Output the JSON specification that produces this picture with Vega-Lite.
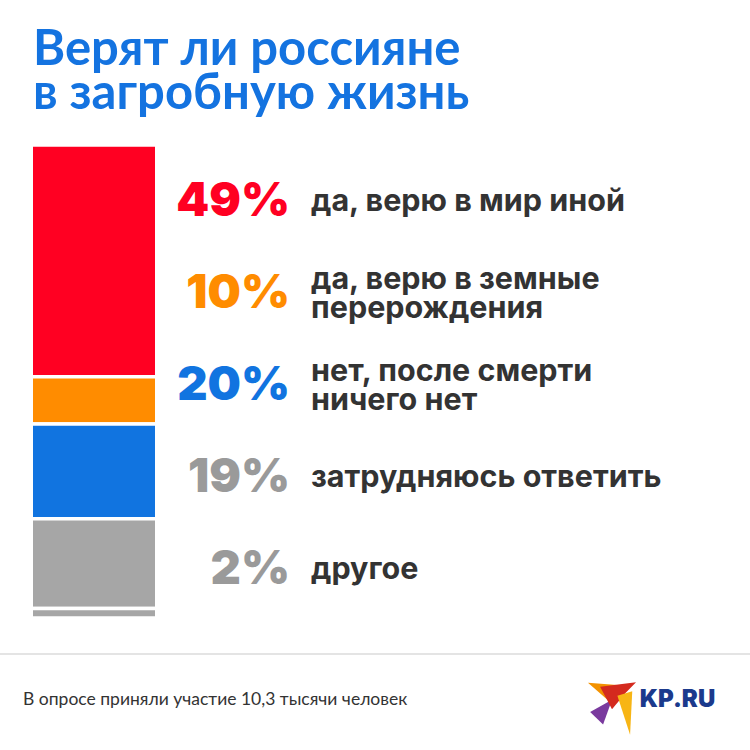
{
  "$schema": "https://vega.github.io/schema/vega-lite/v6.json",
  "width": 750,
  "height": 473,
  "autosize": {"type": "none"},
  "padding": {"left": 0, "top": 145, "right": 0, "bottom": 132},
  "background": "white",
  "config": {"view": {"stroke": null}},
  "title": {
    "text": ["Верят ли россияне", "в загробную жизнь"],
    "anchor": "start",
    "frame": "group",
    "font": "Lato",
    "fontSize": 49,
    "fontWeight": "bold",
    "color": "#1473e0",
    "lineHeight": 44,
    "baseline": "alphabetic",
    "offset": 35,
    "dy": 50,
    "dx": 33
  },
  "datasets": {
    "answers": [
      {"order": 1, "answer": "yes_other_world", "share": 0.49, "label": ["да, верю в мир иной"]},
      {"order": 2, "answer": "yes_rebirth", "share": 0.10, "label": ["да, верю в земные", "перерождения"]},
      {"order": 3, "answer": "no", "share": 0.20, "label": ["нет, после смерти", "ничего нет"]},
      {"order": 4, "answer": "hard_to_say", "share": 0.19, "label": ["затрудняюсь ответить"]},
      {"order": 5, "answer": "other", "share": 0.02, "label": ["другое"]}
    ]
  },
  "resolve": {"scale": {"y": "independent", "x": "shared", "color": "independent"}},
  "layer": [
    {
      "data": {"name": "answers"},
      "transform": [
        {"stack": "share", "groupby": [], "sort": [{"field": "order", "order": "ascending"}], "as": ["y0", "y1"]}
      ],
      "mark": {"type": "bar", "stroke": "white", "strokeWidth": 3.5},
      "encoding": {
        "x": {"datum": 4.167, "type": "quantitative", "scale": {"domain": [0, 100]}, "axis": null},
        "x2": {"datum": 20.9},
        "y": {"field": "y0", "type": "quantitative", "scale": {"domain": [0, 1], "reverse": true}, "axis": null},
        "y2": {"field": "y1"},
        "color": {
          "field": "answer", "type": "nominal", "legend": null,
          "scale": {
            "domain": ["yes_other_world", "yes_rebirth", "no", "hard_to_say", "other"],
            "range": ["#ff0022", "#ff8c00", "#1174e0", "#a6a6a6", "#a6a6a6"]
          }
        }
      }
    },
    {
      "data": {"name": "answers"},
      "mark": {"type": "text", "align": "right", "baseline": "middle", "font": "Inter", "fontSize": 47, "fontWeight": 900},
      "encoding": {
        "x": {"datum": 38.67, "type": "quantitative"},
        "y": {"field": "answer", "type": "nominal", "axis": null,
              "scale": {"type": "point", "domain": ["yes_other_world", "yes_rebirth", "no", "hard_to_say", "other"], "padding": 0.5707, "align": 0.545}},
        "text": {"field": "share", "type": "quantitative", "format": ".0%"},
        "color": {
          "field": "answer", "type": "nominal", "legend": null,
          "scale": {
            "domain": ["yes_other_world", "yes_rebirth", "no", "hard_to_say", "other"],
            "range": ["#ff0022", "#ff8c00", "#1174e0", "#9a9a9a", "#9a9a9a"]
          }
        }
      }
    },
    {
      "data": {"name": "answers"},
      "transform": [{"filter": "length(datum.label) == 1"}],
      "mark": {"type": "text", "align": "left", "baseline": "middle", "font": "Inter", "fontSize": 30.5, "fontWeight": 700, "letterSpacing": 1.6, "color": "#333333", "lineHeight": 30},
      "encoding": {
        "x": {"datum": 41.47, "type": "quantitative"},
        "y": {"field": "answer", "type": "nominal", "axis": null,
              "scale": {"type": "point", "domain": ["yes_other_world", "yes_rebirth", "no", "hard_to_say", "other"], "padding": 0.5707, "align": 0.545}},
        "text": {"field": "label"}
      }
    },
    {
      "data": {"name": "answers"},
      "transform": [{"filter": "length(datum.label) > 1"}],
      "mark": {"type": "text", "align": "left", "baseline": "middle", "font": "Inter", "fontSize": 30.5, "fontWeight": 700, "letterSpacing": 1.6, "color": "#333333", "lineHeight": 29, "dy": -14},
      "encoding": {
        "x": {"datum": 41.47, "type": "quantitative"},
        "y": {"field": "answer", "type": "nominal", "axis": null,
              "scale": {"type": "point", "domain": ["yes_other_world", "yes_rebirth", "no", "hard_to_say", "other"], "padding": 0.5707, "align": 0.545}},
        "text": {"field": "label"}
      }
    },
    {
      "data": {"values": [{}]},
      "mark": {"type": "rule", "color": "#e4e4e4", "strokeWidth": 2},
      "encoding": {
        "x": {"datum": 0, "type": "quantitative"},
        "x2": {"datum": 100},
        "y": {"datum": 1.076, "type": "quantitative", "scale": {"domain": [0, 1], "reverse": true}, "axis": null}
      }
    },
    {
      "data": {"values": [{}]},
      "mark": {"type": "text", "align": "left", "baseline": "alphabetic", "font": "Lato", "fontSize": 17.5, "letterSpacing": -0.6, "color": "#333333"},
      "encoding": {
        "x": {"datum": 3.07, "type": "quantitative"},
        "y": {"datum": 1.184, "type": "quantitative", "scale": {"domain": [0, 1], "reverse": true}, "axis": null},
        "text": {"value": "В опросе приняли участие 10,3 тысячи человек"}
      }
    },
    {
      "data": {"values": [{}]},
      "mark": {"type": "text", "align": "left", "baseline": "alphabetic", "font": "Inter", "fontSize": 24, "fontWeight": 900, "color": "#1b3a8c"},
      "encoding": {
        "x": {"datum": 85.3, "type": "quantitative"},
        "y": {"datum": 1.188, "type": "quantitative", "scale": {"domain": [0, 1], "reverse": true}, "axis": null},
        "text": {"value": "KP.RU"}
      }
    },
    {
      "data": {"values": [
        {"part": "purple", "shape": "M0,-0.3 L-0.81,0.15 L-0.33,0.62 Z"},
        {"part": "orange", "shape": "M-0.89,-0.93 L0.67,-0.81 L0,-0.15 Z"},
        {"part": "red", "shape": "M-0.44,-0.78 L0.89,-0.95 L0.5,-0.55 L0,0.05 Z"},
        {"part": "yellow", "shape": "M0.2,-0.45 L0.75,-0.62 L0.67,1 Z"}
      ]},
      "mark": {"type": "point", "filled": true, "opacity": 1, "size": 2916, "strokeWidth": 0},
      "encoding": {
        "x": {"datum": 81.6, "type": "quantitative"},
        "y": {"datum": 1.19, "type": "quantitative", "scale": {"domain": [0, 1], "reverse": true}, "axis": null},
        "shape": {"field": "shape", "type": "nominal", "scale": null, "legend": null},
        "color": {"field": "part", "type": "nominal", "legend": null,
                  "scale": {"domain": ["orange", "red", "purple", "yellow"], "range": ["#f39200", "#d42a1e", "#7a3a9e", "#f7b515"]}}
      }
    }
  ]
}
